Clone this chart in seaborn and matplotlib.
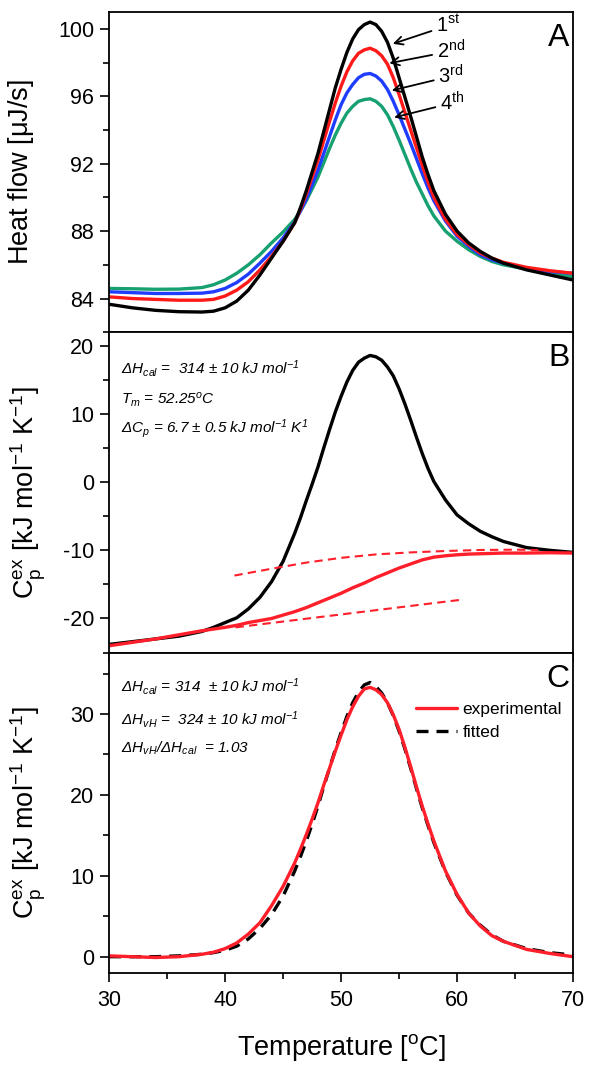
"""
DSC thermograms: heat flow of four scans (A), excess heat capacity with
baseline (B), and experimental vs fitted two-state curve (C).
"""

import matplotlib.pyplot as plt
from matplotlib.ticker import MultipleLocator
import pandas as pd
import seaborn as sns


# Temperature grid (°C) shared by all curves.
temperature = [30, 32, 34, 36, 38, 39, 40, 41, 42, 43, 44, 45, 46, 46.5, 47, 47.5, 48,
               48.5, 49, 49.5, 50, 50.5, 51, 51.5, 52, 52.5, 53, 53.5, 54, 54.5, 55,
               55.5, 56, 56.5, 57, 57.5, 58, 59, 60, 61, 62, 63, 64, 66, 68, 70]

# Panel A - heat flow [uJ/s] for four consecutive scans.
scan_labels = ["1st", "2nd", "3rd", "4th"]
heat_1st = [83.66, 83.45, 83.3, 83.22, 83.2, 83.25, 83.45, 83.85, 84.5, 85.4, 86.4, 87.4,
            88.5, 89.4, 90.4, 91.5, 92.6, 93.9, 95.2, 96.5, 97.6, 98.6, 99.4, 99.95,
            100.25, 100.4, 100.25, 99.85, 99.2, 98.25, 97.1, 95.95, 94.8, 93.6, 92.4,
            91.35, 90.4, 89.0, 88.0, 87.3, 86.8, 86.4, 86.1, 85.7, 85.4, 85.1]
heat_2nd = [84.1, 84.0, 83.95, 83.9, 83.9, 83.95, 84.15, 84.5, 85.0, 85.7, 86.5, 87.4,
            88.5, 89.3, 90.2, 91.2, 92.2, 93.35, 94.5, 95.6, 96.6, 97.45, 98.1, 98.55,
            98.75, 98.85, 98.7, 98.4, 97.9, 97.1, 96.1, 95.05, 94.0, 92.95, 91.9, 90.9,
            90.0, 88.7, 87.8, 87.2, 86.7, 86.4, 86.15, 85.85, 85.65, 85.5]
heat_3rd = [84.4, 84.35, 84.3, 84.3, 84.32, 84.4, 84.6, 84.95, 85.45, 86.1, 86.8, 87.6,
            88.55, 89.2, 89.9, 90.75, 91.6, 92.6, 93.6, 94.6, 95.5, 96.2, 96.7, 97.1,
            97.3, 97.35, 97.2, 96.9, 96.4, 95.7, 94.9, 94.05, 93.2, 92.3, 91.4, 90.55,
            89.8, 88.6, 87.7, 87.1, 86.6, 86.3, 86.1, 85.8, 85.6, 85.5]
heat_4th = [84.6, 84.58, 84.55, 84.56, 84.65, 84.82, 85.1, 85.5, 86.0, 86.6, 87.3, 87.95,
            88.7, 89.2, 89.8, 90.5, 91.2, 92.05, 92.9, 93.7, 94.4, 95.0, 95.4, 95.7,
            95.8, 95.85, 95.7, 95.4, 94.9, 94.2, 93.4, 92.55, 91.7, 90.9, 90.2, 89.5,
            88.9, 88.0, 87.4, 86.9, 86.5, 86.2, 86.0, 85.75, 85.5, 85.3]

# Panel B - excess heat capacity with the progress baseline.
cp_raw = [-23.8, -23.4, -23.0, -22.6, -21.9, -21.3, -20.6, -19.9, -18.6, -16.9, -14.6,
          -11.6, -7.5, -5.2, -2.7, -0.3, 2.2, 5.0, 7.7, 10.3, 12.6, 14.7, 16.4, 17.6,
          18.2, 18.6, 18.4, 17.9, 16.9, 15.6, 13.7, 11.5, 9.1, 6.6, 4.2, 2.0, 0.1,
          -2.6, -4.8, -6.1, -7.2, -8.0, -8.7, -9.6, -10.0, -10.3]
cp_baseline = [-24.0, -23.5, -23.0, -22.4, -21.8, -21.55, -21.3, -21.0, -20.6, -20.3,
               -20.0, -19.5, -19.0, -18.7, -18.4, -18.05, -17.7, -17.35, -17.0, -16.65,
               -16.3, -15.9, -15.5, -15.15, -14.8, -14.4, -14.0, -13.65, -13.3, -12.95,
               -12.6, -12.3, -12.0, -11.7, -11.4, -11.2, -11.0, -10.8, -10.65, -10.55,
               -10.5, -10.45, -10.4, -10.4, -10.35, -10.4]
native_t = [40.8, 44, 47, 50, 53, 56, 59, 62, 65, 67]
native_cp = [-13.7, -12.7, -11.8, -11.1, -10.6, -10.3, -10.1, -9.95, -9.9, -9.95]
denat_t = [40.9, 60.6]
denat_cp = [-21.3, -17.2]

# Panel C - baseline-corrected experimental curve and two-state fit.
cp_experimental = [0.1, 0.0, -0.1, 0.0, 0.3, 0.55, 1.0, 1.7, 2.8, 4.2, 6.3, 8.7, 11.6,
                   13.3, 15.1, 17.0, 19.0, 21.2, 23.3, 25.4, 27.4, 29.3, 30.9, 32.2,
                   33.1, 33.3, 33.0, 32.4, 31.4, 29.9, 28.1, 25.9, 23.5, 21.0, 18.6,
                   16.4, 14.3, 10.6, 7.7, 5.4, 3.8, 2.6, 1.9, 0.9, 0.4, 0.0]
cp_fitted = [0.0, 0.0, 0.0, 0.1, 0.3, 0.5, 0.8, 1.3, 2.2, 3.5, 5.2, 7.5, 10.6, 12.4,
             14.3, 16.4, 18.6, 21.0, 23.3, 25.6, 27.7, 29.7, 31.4, 32.7, 33.6, 33.9,
             33.4, 32.6, 31.4, 29.8, 27.9, 25.7, 23.3, 20.8, 18.4, 16.2, 14.1, 10.5,
             7.6, 5.4, 3.9, 2.7, 1.9, 1.0, 0.5, 0.2]

SCAN_COLORS = {"1st": "#000000", "2nd": "#ff1a1a", "3rd": "#1f3dff", "4th": "#17a070"}
RED = "#ff1f2a"


def main() -> None:
    sns.set_theme(style="ticks")
    plt.rcParams["font.family"] = ["Liberation Sans", "DejaVu Sans"]
    plt.rcParams["mathtext.default"] = "regular"
    plt.rcParams["axes.unicode_minus"] = False
    for key in ("text.color", "axes.labelcolor", "xtick.color", "ytick.color"):
        plt.rcParams[key] = "black"

    heat_df = pd.DataFrame({
        "T": temperature * 4,
        "heat": heat_1st + heat_2nd + heat_3rd + heat_4th,
        "scan": [s for s in scan_labels for _ in temperature],
    })

    fig, axes = plt.subplots(3, 1, figsize=(6, 10.87), dpi=100, sharex=True,
                             gridspec_kw={"hspace": 0})
    fig.subplots_adjust(left=0.182, right=0.955, top=0.989, bottom=0.105)
    ax_a, ax_b, ax_c = axes

    # Panel A
    sns.lineplot(data=heat_df, x="T", y="heat", hue="scan", hue_order=scan_labels[::-1],
                 palette=SCAN_COLORS, linewidth=2.4, legend=False, ax=ax_a)
    ax_a.set_ylim(82, 101)
    ax_a.yaxis.set_major_locator(MultipleLocator(4))
    ax_a.yaxis.set_minor_locator(MultipleLocator(2))
    ax_a.set_ylabel(r"Heat flow [$\mu$J/s]")

    # (label, arrow head, text position)
    arrows = [
        ("1$^{st}$", (54.46, 99.11), (58.19, 100.2)),
        ("2$^{nd}$", (54.16, 97.96), (58.25, 98.67)),
        ("3$^{rd}$", (54.37, 96.34), (58.39, 97.19)),
        ("4$^{th}$", (54.57, 94.74), (58.53, 95.6)),
    ]
    for label, head, tail in arrows:
        ax_a.annotate(label, xy=head, xytext=tail, ha="left", va="center", fontsize=14.5,
                      arrowprops=dict(arrowstyle="->", color="black", lw=1.3,
                                      shrinkA=1, shrinkB=0))

    # Panel B
    sns.lineplot(x=temperature, y=cp_raw, color="black", linewidth=2.4, ax=ax_b)
    sns.lineplot(x=temperature, y=cp_baseline, color=RED, linewidth=2.4, ax=ax_b)
    sns.lineplot(x=native_t, y=native_cp, color=RED, linewidth=1.5, ax=ax_b)
    ax_b.lines[-1].set_dashes([4, 2.5])
    sns.lineplot(x=denat_t, y=denat_cp, color=RED, linewidth=1.5, ax=ax_b)
    ax_b.lines[-1].set_dashes([4, 2.5])
    ax_b.set_ylim(-25, 22)
    ax_b.yaxis.set_major_locator(MultipleLocator(10))
    ax_b.yaxis.set_minor_locator(MultipleLocator(5))
    ax_b.set_ylabel(r"C$_p^{ex}$ [kJ mol$^{-1}$ K$^{-1}$]")

    b_notes = [
        (0.888, r"ΔH$_{cal}$ =  314 ± 10 kJ mol$^{-1}$"),
        (0.788, r"T$_m$ = 52.25$^o$C"),
        (0.700, r"ΔC$_p$ = 6.7 ± 0.5 kJ mol$^{-1}$ K$^{1}$"),
    ]
    for y, note in b_notes:
        ax_b.text(0.026, y, note, transform=ax_b.transAxes, fontsize=11,
                  fontstyle="italic", va="center", ha="left")

    # Panel C
    sns.lineplot(x=temperature, y=cp_fitted, color="black", linewidth=2.4,
                 label="fitted", ax=ax_c)
    ax_c.lines[-1].set_dashes([3.6, 2.4])
    sns.lineplot(x=temperature, y=cp_experimental, color=RED, linewidth=2.4,
                 label="experimental", ax=ax_c)
    ax_c.set_ylim(-2, 37.6)
    ax_c.yaxis.set_major_locator(MultipleLocator(10))
    ax_c.yaxis.set_minor_locator(MultipleLocator(5))
    ax_c.set_ylabel(r"C$_p^{ex}$ [kJ mol$^{-1}$ K$^{-1}$]")
    ax_c.set_xlabel(r"Temperature [$^o$C]")

    handles, labels = ax_c.get_legend_handles_labels()
    ax_c.legend(handles[::-1], labels[::-1], loc="upper right", bbox_to_anchor=(0.991, 0.868),
                borderaxespad=0, frameon=False, fontsize=12.5, handlelength=2.4,
                handletextpad=0.3, labelspacing=0.45)

    c_notes = [
        (0.895, r"ΔH$_{cal}$ = 314  ± 10 kJ mol$^{-1}$"),
        (0.790, r"ΔH$_{vH}$ =  324 ± 10 kJ mol$^{-1}$"),
        (0.700, r"ΔH$_{vH}$/ΔH$_{cal}$  = 1.03"),
    ]
    for y, note in c_notes:
        ax_c.text(0.026, y, note, transform=ax_c.transAxes, fontsize=11,
                  fontstyle="italic", va="center", ha="left")

    # Shared axis styling
    for ax, letter in zip(axes, "ABC"):
        ax.set_xlim(30, 70)
        ax.xaxis.set_major_locator(MultipleLocator(10))
        ax.xaxis.set_minor_locator(MultipleLocator(5))
        ax.tick_params(which="major", direction="out", length=6.5, width=1.2,
                       labelsize=15.5, pad=4.3)
        ax.tick_params(which="minor", direction="out", length=4.5, width=1.2)
        ax.tick_params(axis="x", which="major", pad=5.5)
        for spine in ax.spines.values():
            spine.set_visible(True)
            spine.set_linewidth(1.3)
            spine.set_color("black")
        ax.yaxis.label.set_size(19.5)
        ax.xaxis.label.set_size(19.5)
        ax.text(0.992, 0.965, letter, transform=ax.transAxes, fontsize=23,
                ha="right", va="top")

    ax_a.yaxis.set_label_coords(-0.157, 0.5)
    ax_b.yaxis.set_label_coords(-0.132, 0.5)
    ax_c.yaxis.set_label_coords(-0.132, 0.5)
    ax_c.xaxis.set_label_coords(0.5, -0.185)
    fig.savefig("out.png", dpi=100)
    plt.close(fig)


if __name__ == "__main__":
    main()
